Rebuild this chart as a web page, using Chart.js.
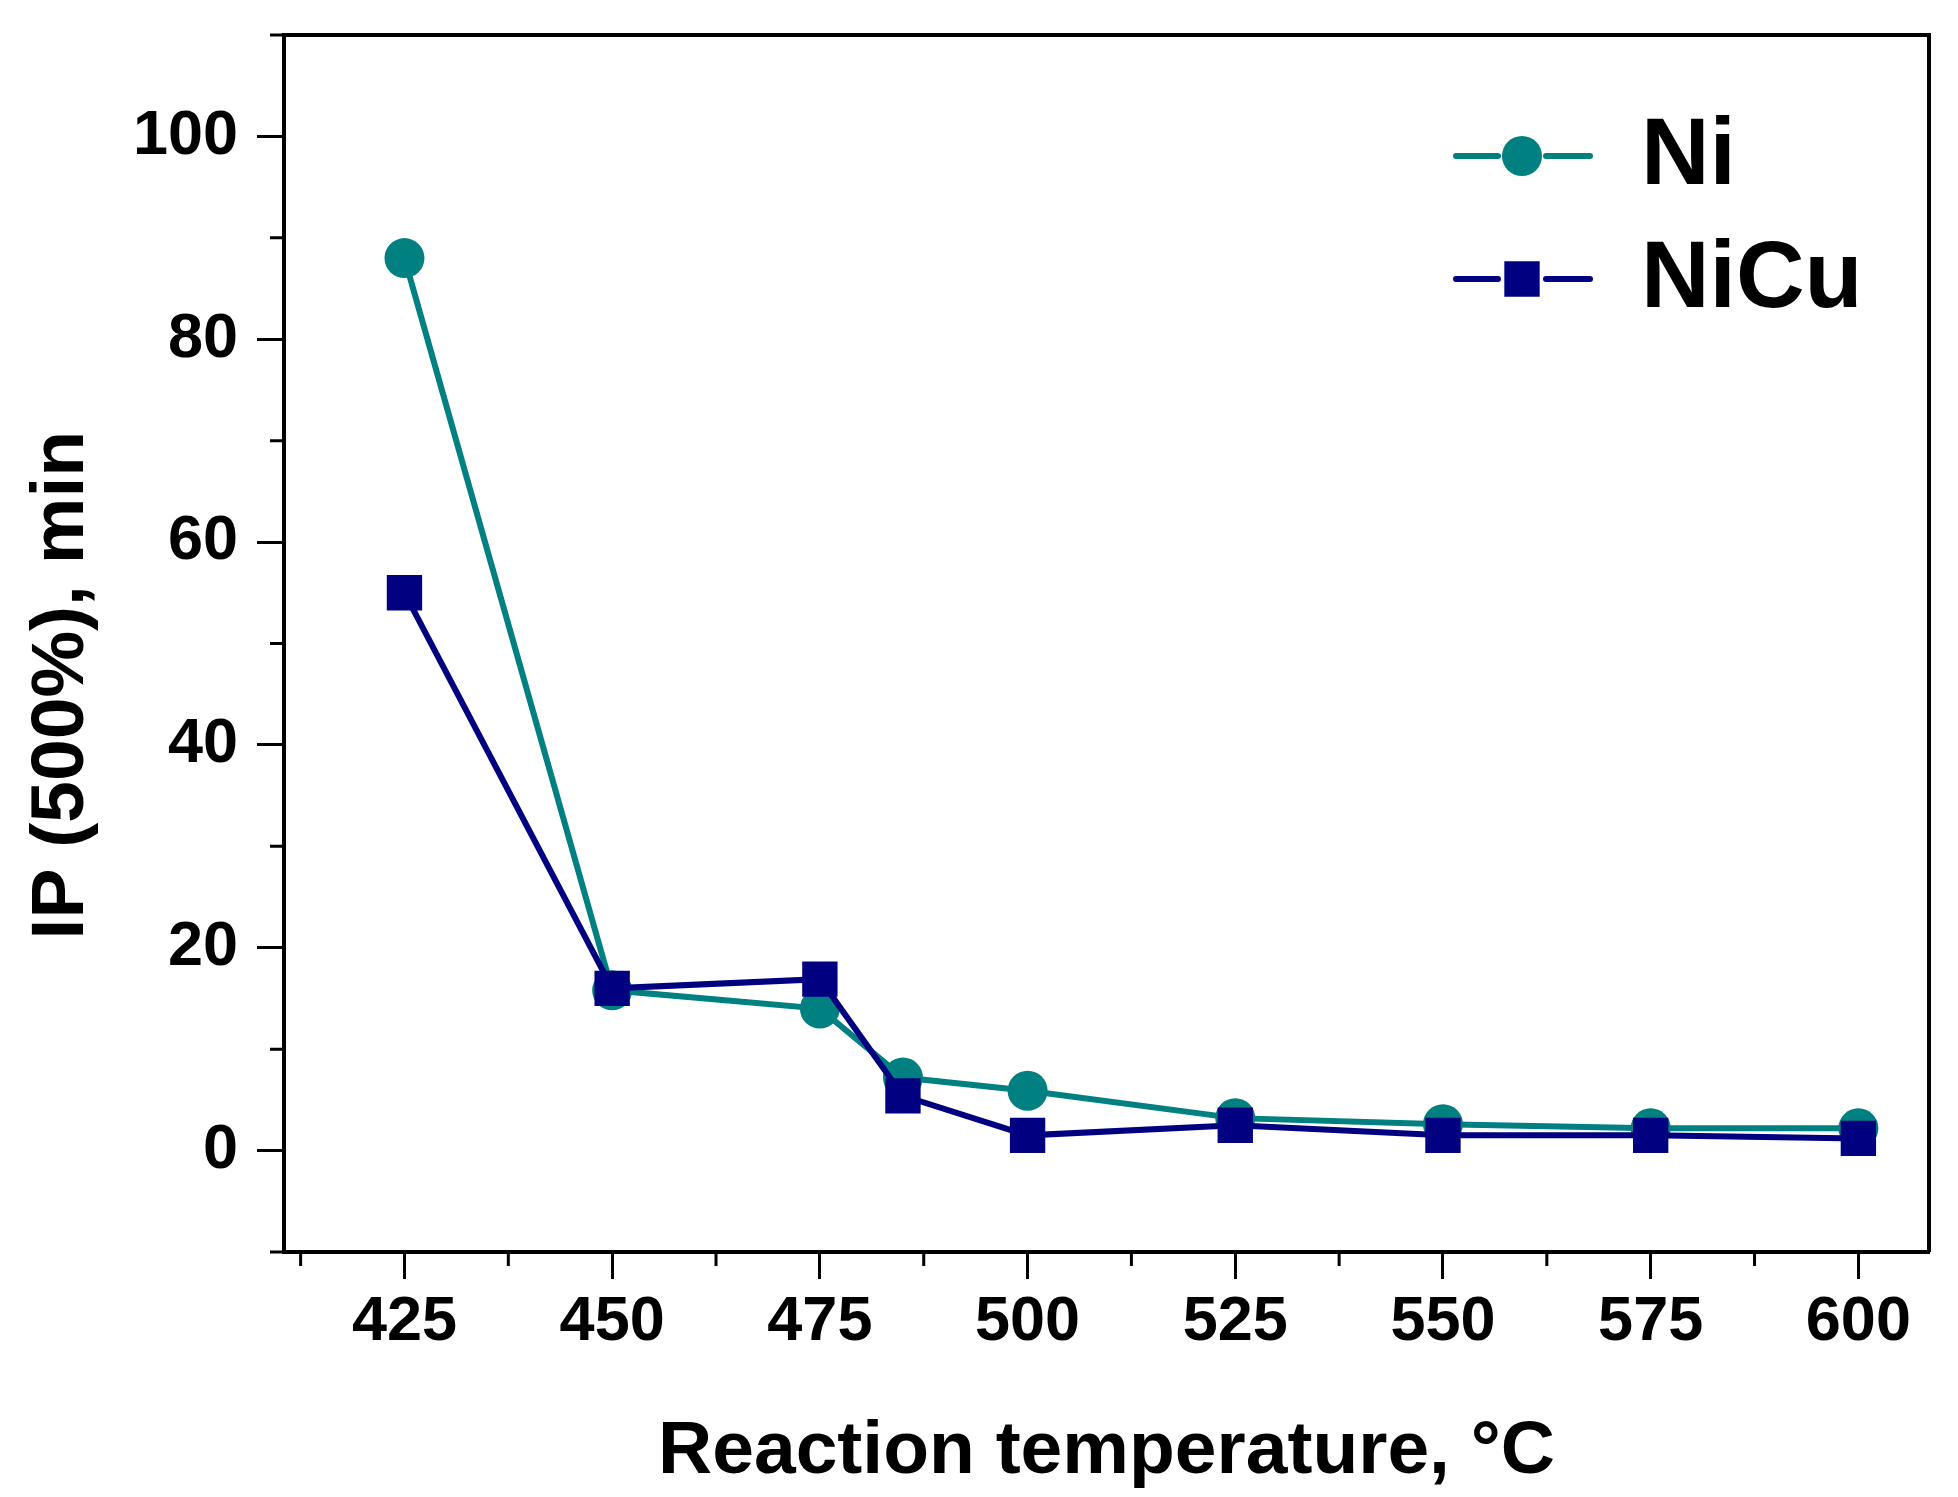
<!DOCTYPE html>
<html>
<head>
<meta charset="utf-8">
<script src="https://cdn.jsdelivr.net/npm/chart.js@4.4.1/dist/chart.umd.min.js"></script>
<style>
  html, body { margin: 0; padding: 0; background: #fff; }
  #wrap { width: 1958px; height: 1497px; }
</style>
</head>
<body>
<div id="wrap"><canvas id="c" width="1958" height="1497"></canvas></div>
<script>
// temperatures, C
var temps = [425, 450, 475, 485, 500, 525, 550, 575, 600];
// IP (500%), min
var niValues   = [88, 15.8, 14, 7.2, 5.9, 3.2, 2.6, 2.2, 2.2];
var nicuValues = [55, 16, 16.9, 5.4, 1.5, 2.5, 1.5, 1.5, 1.2];

var xMajor = [425, 450, 475, 500, 525, 550, 575, 600];
var xMinor = [412.5, 437.5, 462.5, 487.5, 512.5, 537.5, 562.5, 587.5];
var yMajor = [0, 20, 40, 60, 80, 100];
var yMinor = [-10, 10, 30, 50, 70, 90, 110];

var FONT = '"Liberation Sans", Arial, sans-serif';

function toPoints(xs, ys) {
  return xs.map(function (x, i) { return { x: x, y: ys[i] }; });
}

// keep the plot box where the reference has it
function noPadding(axis) {
  axis.paddingTop = 0;
  axis.paddingBottom = 0;
  axis.paddingLeft = 0;
  axis.paddingRight = 0;
}

// frame on top/right, short minor ticks and the Origin-style legend
var decorations = {
  id: 'decorations',
  afterDraw: function (chart) {
    var ctx = chart.ctx;
    var a = chart.chartArea;
    var xs = chart.scales.x, ys = chart.scales.y;
    ctx.save();
    ctx.strokeStyle = '#000';
    ctx.lineWidth = 4;
    ctx.beginPath();
    ctx.moveTo(a.left, a.top);
    ctx.lineTo(a.right, a.top);
    ctx.lineTo(a.right, a.bottom);
    ctx.stroke();

    ctx.lineWidth = 3;
    ctx.beginPath();
    xMinor.forEach(function (v) {
      var px = xs.getPixelForValue(v);
      ctx.moveTo(px, a.bottom);
      ctx.lineTo(px, a.bottom + 14);
    });
    yMinor.forEach(function (v) {
      var py = ys.getPixelForValue(v);
      ctx.moveTo(a.left, py);
      ctx.lineTo(a.left - 14, py);
    });
    ctx.stroke();

    // legend
    var rows = [
      { text: 'Ni', color: '#008080', style: 'circle', r: 20, y: 156 },
      { text: 'NiCu', color: '#000080', style: 'rect', r: 25, y: 279 }
    ];
    rows.forEach(function (row) {
      ctx.strokeStyle = row.color;
      ctx.lineWidth = 6;
      ctx.lineCap = 'round';
      ctx.beginPath();
      ctx.moveTo(1456, row.y); ctx.lineTo(1498, row.y);
      ctx.moveTo(1546, row.y); ctx.lineTo(1590, row.y);
      ctx.stroke();
      ctx.fillStyle = row.color;
      Chart.helpers.drawPoint(ctx, { pointStyle: row.style, radius: row.r, rotation: 0, borderWidth: 0 }, 1522, row.y);
      ctx.fillStyle = '#000';
      ctx.font = 'bold 95px ' + FONT;
      ctx.textBaseline = 'middle';
      ctx.textAlign = 'left';
      ctx.fillText(row.text, 1641, row.y + 2);
    });
    ctx.restore();
  }
};

new Chart(document.getElementById('c'), {
  type: 'line',
  data: {
    datasets: [{
      label: 'Ni',
      data: toPoints(temps, niValues),
      borderColor: '#008080',
      backgroundColor: '#008080',
      borderWidth: 6,
      pointStyle: 'circle',
      pointRadius: 20,
      pointBorderWidth: 0,
      order: 2
    }, {
      label: 'NiCu',
      data: toPoints(temps, nicuValues),
      borderColor: '#000080',
      backgroundColor: '#000080',
      borderWidth: 6,
      pointStyle: 'rect',
      pointRadius: 25,
      pointBorderWidth: 0,
      order: 1
    }]
  },
  options: {
    responsive: false,
    devicePixelRatio: 1,
    animation: false,
    layout: { padding: { left: 0, top: 35, right: 29, bottom: 0 } },
    plugins: { legend: { display: false }, tooltip: { enabled: false } },
    scales: {
      x: {
        type: 'linear',
        min: 410.5,
        max: 608.5,
        afterBuildTicks: function (axis) {
          axis.ticks = xMajor.map(function (v) { return { value: v }; });
        },
        afterFit: function (axis) { axis.height = 245; noPadding(axis); },
        border: { color: '#000', width: 4 },
        grid: { drawOnChartArea: false, drawTicks: true, tickLength: 27, tickWidth: 3, tickColor: '#000' },
        ticks: {
          color: '#000',
          padding: 6,
          maxRotation: 0,
          font: { family: FONT, weight: 'bold', size: 63 }
        },
        title: {
          display: true,
          text: 'Reaction temperature, °C',
          color: '#000',
          padding: { top: 0, bottom: 0 },
          font: { family: FONT, weight: 'bold', size: 75 }
        }
      },
      y: {
        min: -10,
        max: 110,
        afterBuildTicks: function (axis) {
          axis.ticks = yMajor.map(function (v) { return { value: v }; });
        },
        afterFit: function (axis) { axis.width = 284; noPadding(axis); },
        border: { color: '#000', width: 4 },
        grid: { drawOnChartArea: false, drawTicks: true, tickLength: 27, tickWidth: 3, tickColor: '#000' },
        ticks: {
          color: '#000',
          padding: 19,
          font: { family: FONT, weight: 'bold', size: 63 }
        },
        title: {
          display: true,
          text: 'IP (500%), min    ',
          color: '#000',
          padding: { top: 17, bottom: 0 },
          font: { family: FONT, weight: 'bold', size: 75 }
        }
      }
    }
  },
  plugins: [decorations]
});
</script>
</body>
</html>
